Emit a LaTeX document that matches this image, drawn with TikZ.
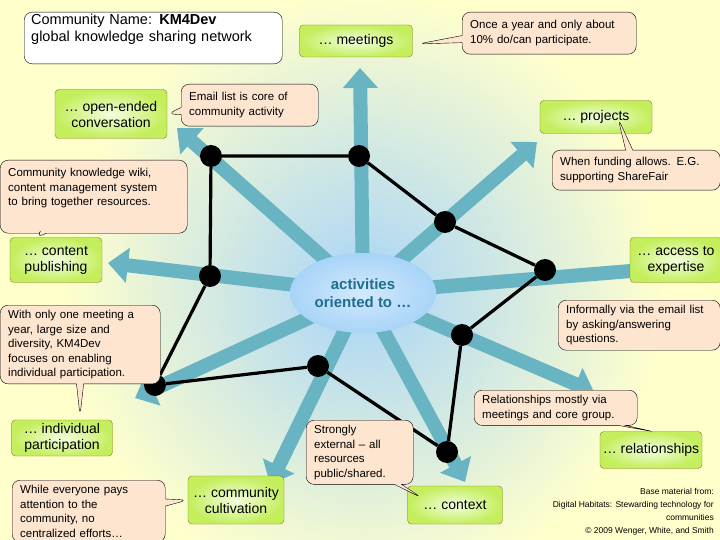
\documentclass[tikz,border=0pt]{standalone}
\usepackage{fontspec}
\setmainfont{Liberation Sans}
\usetikzlibrary{shapes.callouts,shapes.geometric,arrows.meta}
\definecolor{bgy}{HTML}{FFFFCC}
\definecolor{bgb}{HTML}{A8D4F8}
\definecolor{teal}{HTML}{68B4C2}
\definecolor{peach}{HTML}{FDE5D0}
\definecolor{gout}{HTML}{C4EE5C}
\definecolor{gin}{HTML}{F2FFE0}
\definecolor{gbord}{HTML}{8A7A2A}
\definecolor{ctext}{HTML}{1E6E92}
\tikzset{
  x=1pt,y=-1pt,
  spoke/.style={draw=teal,line width=14pt,-{Triangle[length=20pt,width=34pt]}},
  gbox/.style={rectangle,rounded corners=4pt,draw=gbord,inner color=gin,outer color=gout,font=\fontsize{14}{16}\selectfont,align=center,inner sep=2pt},
  note/.style={rectangle callout,rounded corners=8pt,draw=black,fill=peach,font=\fontsize{11.5}{14.5}\selectfont,align=left,inner xsep=8pt,inner ysep=5pt,anchor=north west},
  plainnote/.style={rectangle,rounded corners=8pt,draw=black,fill=peach,font=\fontsize{11.5}{14.5}\selectfont,align=left,inner xsep=8pt,inner ysep=5pt,anchor=north west},
  dot/.style={circle,fill=black,minimum size=22pt,inner sep=0pt},
  link/.style={line width=3.2pt,black}
}
\begin{document}
\begin{tikzpicture}
\useasboundingbox (0,0) rectangle (720,540);
\fill[bgy] (0,0) rectangle (720,540);
\shade[inner color=bgb,outer color=bgy] (363,293) circle (300);
\coordinate (c) at (363,293);
\coordinate (t1) at (360,68);
\coordinate (t2) at (177,128);
\coordinate (t3) at (537,142);
\coordinate (t4) at (108,263);
\coordinate (t5) at (716,264);
\coordinate (t6) at (135,398);
\coordinate (t7) at (594,392);
\coordinate (t8) at (270,484);
\coordinate (t9) at (465,482);
\foreach \t in {t1,t2,t3,t4,t5,t6,t7,t8,t9} \draw[spoke] (c) -- (\t);
\node[ellipse,minimum width=133pt,minimum height=80pt,inner color=bgb!50!white,outer color=bgb,draw=none,font=\fontsize{15}{18}\selectfont,text=ctext,align=center] (ctr) at (c) {\textbf{activities}\\\textbf{oriented to …}};
% dots and links
\node[dot] (d1) at (211,156) {};
\node[dot] (d2) at (359,156) {};
\node[dot] (d3) at (445,222) {};
\node[dot] (d4) at (545,270) {};
\node[dot] (d5) at (462,335) {};
\node[dot] (d6) at (447,452) {};
\node[dot] (d7) at (318,366) {};
\node[dot] (d8) at (155,385) {};
\node[dot] (d9) at (210,276) {};
\draw[link] (d1)--(d2)--(d3)--(d4)--(d5)--(d6)--(d7)--(d8)--(d9)--(d1);
% title
\node[rectangle,rounded corners=8pt,draw=black,fill=white,align=left,font=\fontsize{14.5}{17}\selectfont,text width=244pt,anchor=north west,inner xsep=7pt,inner ysep=2pt] (title) at (24,12) {Community Name: \textbf{KM4Dev}\\global knowledge sharing network\\[-2pt]\strut};
% green boxes
\node[gbox,minimum width=113pt,minimum height=32pt] (meet) at (356,41) {… meetings};
\node[gbox,minimum width=112pt,minimum height=49pt] (open) at (111,114) {… open-ended\\conversation};
\node[gbox,minimum width=112pt,minimum height=33pt] (proj) at (596,117) {… projects};
\node[gbox,minimum width=92pt,minimum height=45pt] (cont) at (56,260) {… content\\publishing};
\node[gbox,minimum width=92pt,minimum height=45pt] (acc) at (676,260) {… access to\\expertise};
\node[gbox,minimum width=101pt,minimum height=36pt] (indiv) at (62,438) {… individual\\participation};
\node[gbox,minimum width=96pt,minimum height=48pt] (cult) at (236,500) {… community\\cultivation};
\node[gbox,minimum width=95pt,minimum height=38pt] (ctx) at (455,505) {… context};
\node[gbox,minimum width=102pt,minimum height=37pt] (rel) at (651,450) {… relationships};
% callouts
\node[note,text width=158pt,minimum height=42pt,callout absolute pointer={(418,44)}] (once) at (462,12) {Once a year and only about\\10\% do/can participate.};
\node[note,text width=121pt,minimum height=42pt,callout absolute pointer={(open.east)}] (email) at (181,84) {Email list is core of\\community activity};
\node[note,text width=152pt,minimum height=40pt,callout absolute pointer={(618,118)}] (fund) at (552,150) {When funding allows. E.G.\\supporting ShareFair};
\node[note,text width=171pt,minimum height=73pt,callout absolute pointer={(36,238)}] (wiki) at (0,160) {Community knowledge wiki,\\content management system\\to bring together resources.\\\strut};
\node[plainnote,text width=146pt,minimum height=50pt] (inf) at (558,300) {Informally via the email list\\by asking/answering\\questions.};
\node[note,text width=144pt,minimum height=78pt,callout absolute pointer={(80,416)}] (one) at (0,305) {With only one meeting a\\year, large size and\\diversity, KM4Dev\\focuses on enabling\\individual participation.};
\node[note,text width=147pt,minimum height=35pt,callout absolute pointer={(655,432)}] (relc) at (474,390) {Relationships mostly via\\meetings and core group.};
\node[note,text width=91pt,minimum height=64pt,callout absolute pointer={(422,498)}] (ext) at (306,420) {Strongly\\external – all\\resources\\public/shared.};
\node[note,text width=137pt,minimum height=62pt,callout absolute pointer={(cult.west)}] (every) at (12,480) {While everyone pays\\attention to the\\community, no\\centralized efforts…};
% footnote
\node[anchor=north east,align=right,font=\fontsize{8.5}{13}\selectfont,inner sep=0pt] (foot) at (714,488) {Base material from:\\Digital Habitats: Stewarding technology for\\communities\\© 2009 Wenger, White, and Smith};
\end{tikzpicture}
\end{document}
